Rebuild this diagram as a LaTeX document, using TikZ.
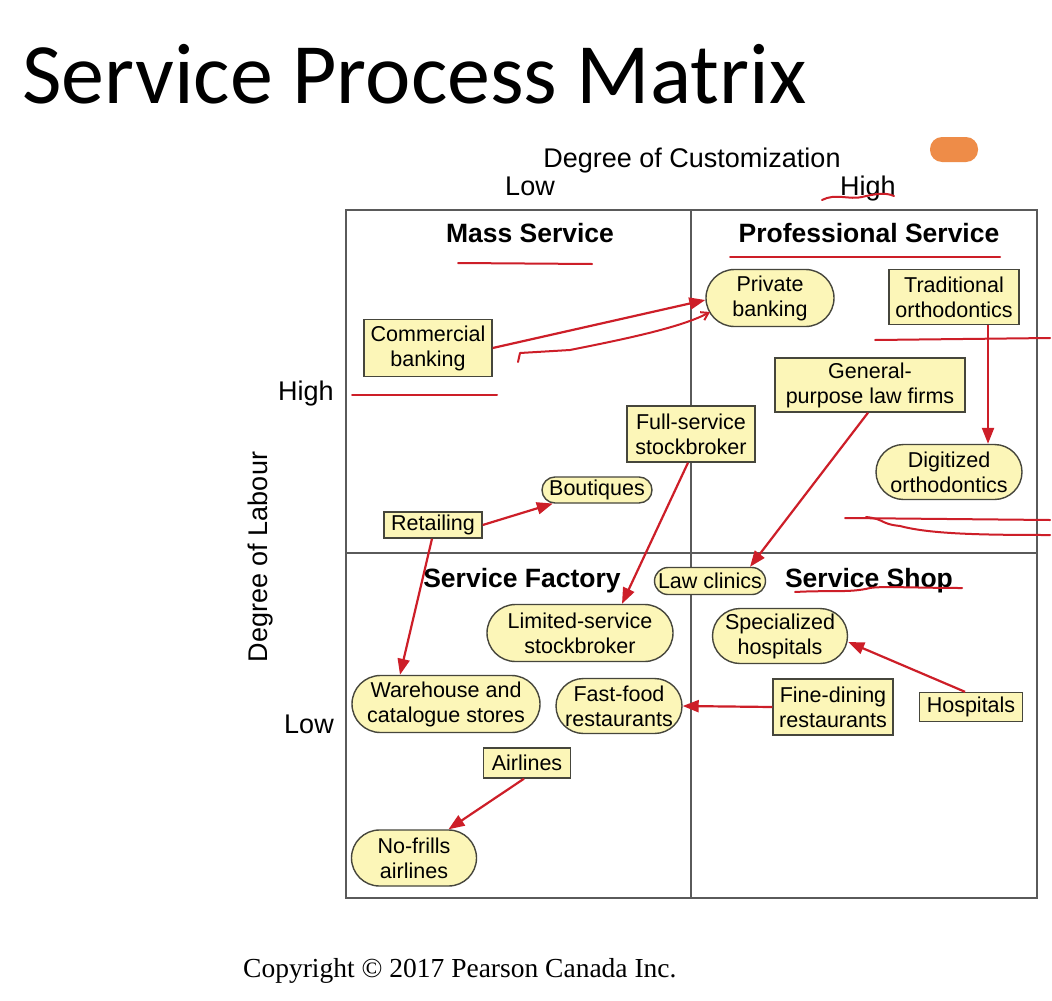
\documentclass[tikz,border=0pt]{standalone}
\usepackage{fontspec}
\setmainfont{Liberation Sans}
\newfontfamily\titlefont{Carlito}
\newfontfamily\copyfont{Liberation Serif}
\usetikzlibrary{arrows.meta,shapes.misc}

\definecolor{boxfill}{RGB}{252,246,184}
\definecolor{boxline}{RGB}{70,70,60}
\definecolor{gridline}{RGB}{90,90,90}
\definecolor{penred}{RGB}{205,30,40}
\definecolor{blob}{RGB}{238,140,72}

\tikzset{
  sq/.style={draw=boxline,line width=1.4pt,fill=boxfill,inner sep=0pt,
    align=center,font=\fontsize{21.5}{25}\selectfont},
  rnd/.style={sq,rounded rectangle},
  head/.style={anchor=base,font=\bfseries\fontsize{26.5}{30}\selectfont},
  axis/.style={anchor=base,font=\fontsize{27}{30}\selectfont},
  link/.style={penred,line width=2.2pt,-{Triangle[length=16pt,width=12pt]}},
  pen/.style={penred,line width=2pt,line cap=round,line join=round},
}

\begin{document}
\begin{tikzpicture}[x=1pt,y=-1pt]
  \useasboundingbox[fill=white] (0,0) rectangle (1052,1001);

  % title and axes
  \node[anchor=base west,inner sep=0pt,font=\titlefont\fontsize{86}{90}\selectfont]
    (title) at (22,103) {Service Process Matrix};
  \node[axis] (custom) at (692,167) {Degree of Customization};
  \node[axis] (clow) at (530,195) {Low};
  \node[axis] (chigh) at (868,195) {High};
  \node[axis] (lhigh) at (306,400) {High};
  \node[axis] (llow) at (309,733) {Low};
  \node[axis,rotate=90] (labour) at (267,557) {Degree of Labour};
  \node[anchor=base west,inner sep=0pt,font=\copyfont\fontsize{27.5}{30}\selectfont]
    (copy) at (243,977) {Copyright © 2017 Pearson Canada Inc.};
  \fill[blob,rounded corners=12pt] (930,137) rectangle (978,162);

  % the matrix
  \draw[gridline,line width=1.5pt] (346,210) rectangle (1037,898);
  \draw[gridline,line width=1.5pt] (691,210) -- (691,898);
  \draw[gridline,line width=1.5pt] (346,553) -- (1037,553);

  \node[head] (mass) at (530,242) {Mass Service};
  \node[head] (prof) at (869,242) {Professional Service};
  \node[head] (factory) at (522,587) {Service Factory};
  \node[head] (shop) at (869,587) {Service Shop};

  % processes
  \node[sq,minimum width=128pt,minimum height=57pt] (comm) at (428,348) {Commercial\\banking};
  \node[rnd,minimum width=128pt,minimum height=57pt] (priv) at (770,298) {Private\\banking};
  \node[sq,minimum width=130pt,minimum height=55pt] (trad) at (954,297) {Traditional\\orthodontics};
  \node[sq,minimum width=190pt,minimum height=54pt] (lawfirm) at (870,385) {General-\\purpose law firms};
  \node[sq,minimum width=128pt,minimum height=56pt] (fullsb) at (691,434) {Full-service\\stockbroker};
  \node[rnd,minimum width=146pt,minimum height=55pt] (digit) at (949,472) {Digitized\\orthodontics};
  \node[rnd,minimum width=110pt,minimum height=26pt] (boutiq) at (597,490) {Boutiques};
  \node[sq,minimum width=98pt,minimum height=26pt] (retail) at (433,525) {Retailing};
  \node[rnd,minimum width=111pt,minimum height=27pt] (lawclin) at (710,581) {Law clinics};
  \node[rnd,minimum width=186pt,minimum height=57pt] (limsb) at (580,633) {Limited-service\\stockbroker};
  \node[rnd,minimum width=135pt,minimum height=55pt] (spec) at (780,636) {Specialized\\hospitals};
  \node[rnd,minimum width=188pt,minimum height=57pt] (ware) at (446,704) {Warehouse and\\catalogue stores};
  \node[rnd,minimum width=126pt,minimum height=55pt] (fast) at (619,706) {Fast-food\\restaurants};
  \node[sq,minimum width=120pt,minimum height=56pt] (fine) at (833,707) {Fine-dining\\restaurants};
  \node[sq,minimum width=103pt,minimum height=29pt] (hosp) at (971,707) {Hospitals};
  \node[sq,minimum width=87pt,minimum height=30pt] (air) at (527,763) {Airlines};
  \node[rnd,minimum width=125pt,minimum height=56pt] (nofrill) at (414,858) {No-frills\\airlines};

  % moves
  \draw[link] ([xshift=34pt]trad.south) -- ([xshift=39pt]digit.north);
  \draw[link] ([xshift=-2pt]lawfirm.south) -- ([xshift=40pt]lawclin.north);
  \draw[link] ([xshift=-3pt]fullsb.south) -- ([xshift=42pt]limsb.north);
  \draw[link] (retail.east) -- (boutiq);
  \draw[link] ([xshift=-1pt]retail.south) -- ([xshift=-46pt]ware.north);
  \draw[link] ([xshift=-6pt]hosp.north) -- ([yshift=-6pt]spec.east);
  \draw[link] (fine.west) -- (fast.east);
  \draw[link] ([xshift=-3pt]air.south) -- (nofrill.north east);

  % pen marks
  \draw[link] (comm.east) -- ([yshift=-2pt]priv.west);
  \draw[pen,-{Straight Barb[length=7pt,width=9pt]}] (518,362) -- (520,353) -- (570,350)
    .. controls (620,340) and (680,328) .. (710,312);
  \draw[pen] (822,200) .. controls (835,193) and (850,200) .. (862,197)
    .. controls (875,194) and (885,192) .. (894,196);
  \draw[pen] (458,263) -- (592,264);
  \draw[pen] (730,257) -- (1000,257);
  \draw[pen] (875,340) -- (1050,338);
  \draw[pen] (352,395) -- (497,395);
  \draw[pen] (845,518) -- (1050,520);
  \draw[pen] (866,517) .. controls (885,519) and (880,524) .. (900,526)
    .. controls (930,534) and (980,535) .. (1050,535);
  \draw[pen] (795,592) .. controls (830,590) and (850,593) .. (870,588)
    .. controls (880,586) and (920,588) .. (962,588);
\end{tikzpicture}
\end{document}
